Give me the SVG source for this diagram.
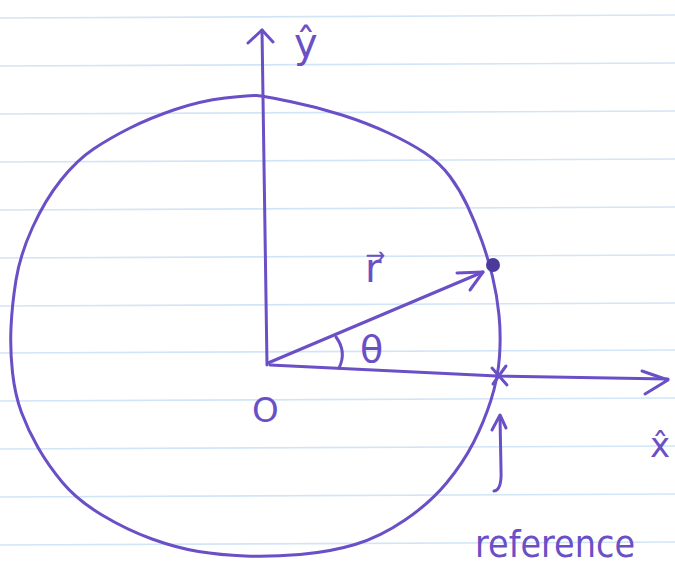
<svg xmlns="http://www.w3.org/2000/svg" width="675" height="582" viewBox="0 0 675 582">
<style>
.rule{stroke:#d2e5f6;stroke-width:1.6;fill:none}
.pen{stroke:#6a4fc6;stroke-width:3;fill:none;stroke-linecap:round;stroke-linejoin:round}
.lbl{fill:#6a4fc6;font-family:"DejaVu Sans","Liberation Sans",sans-serif}
</style>
<rect width="675" height="582" fill="#ffffff"/>
<g id="paper">
<line class="rule" x1="0" y1="18" x2="675" y2="15"/>
<line class="rule" x1="0" y1="66" x2="675" y2="63"/>
<line class="rule" x1="0" y1="114" x2="675" y2="111"/>
<line class="rule" x1="0" y1="162" x2="675" y2="159"/>
<line class="rule" x1="0" y1="210" x2="675" y2="207"/>
<line class="rule" x1="0" y1="258" x2="675" y2="255"/>
<line class="rule" x1="0" y1="306" x2="675" y2="303"/>
<line class="rule" x1="0" y1="353" x2="675" y2="350"/>
<line class="rule" x1="0" y1="401" x2="675" y2="398"/>
<line class="rule" x1="0" y1="449" x2="675" y2="446"/>
<line class="rule" x1="0" y1="497" x2="675" y2="494"/>
<line class="rule" x1="0" y1="545" x2="675" y2="542"/>
</g>
<g id="circle">
<path class="pen" d="M256.5 95.5 Q263 96 290 101.5 Q317 107 342 115 Q367 123 388.5 133 Q410 143 425 153 Q440 163 450 176.5 Q460 190 467.5 206 Q475 222 481.5 240 Q488 258 492.5 276.5 Q497 295 499 315 Q501 335 499.5 356.5 Q498 378 491 400 Q484 422 473.5 442.5 Q463 463 446.5 483 Q430 503 405 520 Q380 537 355 544.5 Q330 552 300 554.5 Q270 557 245 556 Q220 555 198.5 551.5 Q177 548 152 539 Q127 530 102 515 Q77 500 62.5 482.5 Q48 465 38 447.5 Q28 430 21.5 412.5 Q15 395 12.5 372.5 Q10 350 11 327.5 Q12 305 16 280 Q20 255 32.5 227.5 Q45 200 61 180 Q77 160 93.5 149 Q110 138 130 128 Q150 118 175 109.5 Q200 101 225 98 Q250 95 256.5 95.5 Z"/>
</g>
<g id="connectors">
<g id="y-axis">
<path class="pen" d="M267 365 L262 30"/>
<path class="pen" d="M248 43 L262 30 L273 42"/>
</g>
<g id="x-axis">
<path class="pen" d="M270 365 L497 376 L668 379"/>
<path class="pen" d="M642 371 L668 380 L645 394"/>
</g>
<g id="r-vector">
<path class="pen" d="M268 363 L483 272"/>
<path class="pen" d="M457 273 L483 272 L470 290"/>
</g>
<g id="theta-arc">
<path class="pen" d="M336 337 Q347 352 339 368"/>
</g>
<g id="reference-arrow">
<path class="pen" d="M494 491 Q502 490 501 470 L500 416"/>
<path class="pen" d="M492 430 L500 415 L506 428"/>
</g>
</g>
<g id="point">
<circle cx="493" cy="265" r="7" fill="#4a3a9a"/>
</g>
<g id="reference-mark">
<path class="pen" d="M492 368 L507 385 M506 366 L493 384" stroke-width="2.5"/>
</g>
<g id="labels">
<text class="lbl" x="294" y="57" font-size="40">ŷ</text>
<text class="lbl" x="650" y="457" font-size="34">x̂</text>
<text class="lbl" x="365" y="282" font-size="40">r⃗</text>
<text class="lbl" x="360" y="362" font-size="38">θ</text>
<text class="lbl" x="252" y="422" font-size="34">O</text>
<text class="lbl" x="475" y="557" font-size="38" textLength="160" lengthAdjust="spacingAndGlyphs">reference</text>
</g>
</svg>
